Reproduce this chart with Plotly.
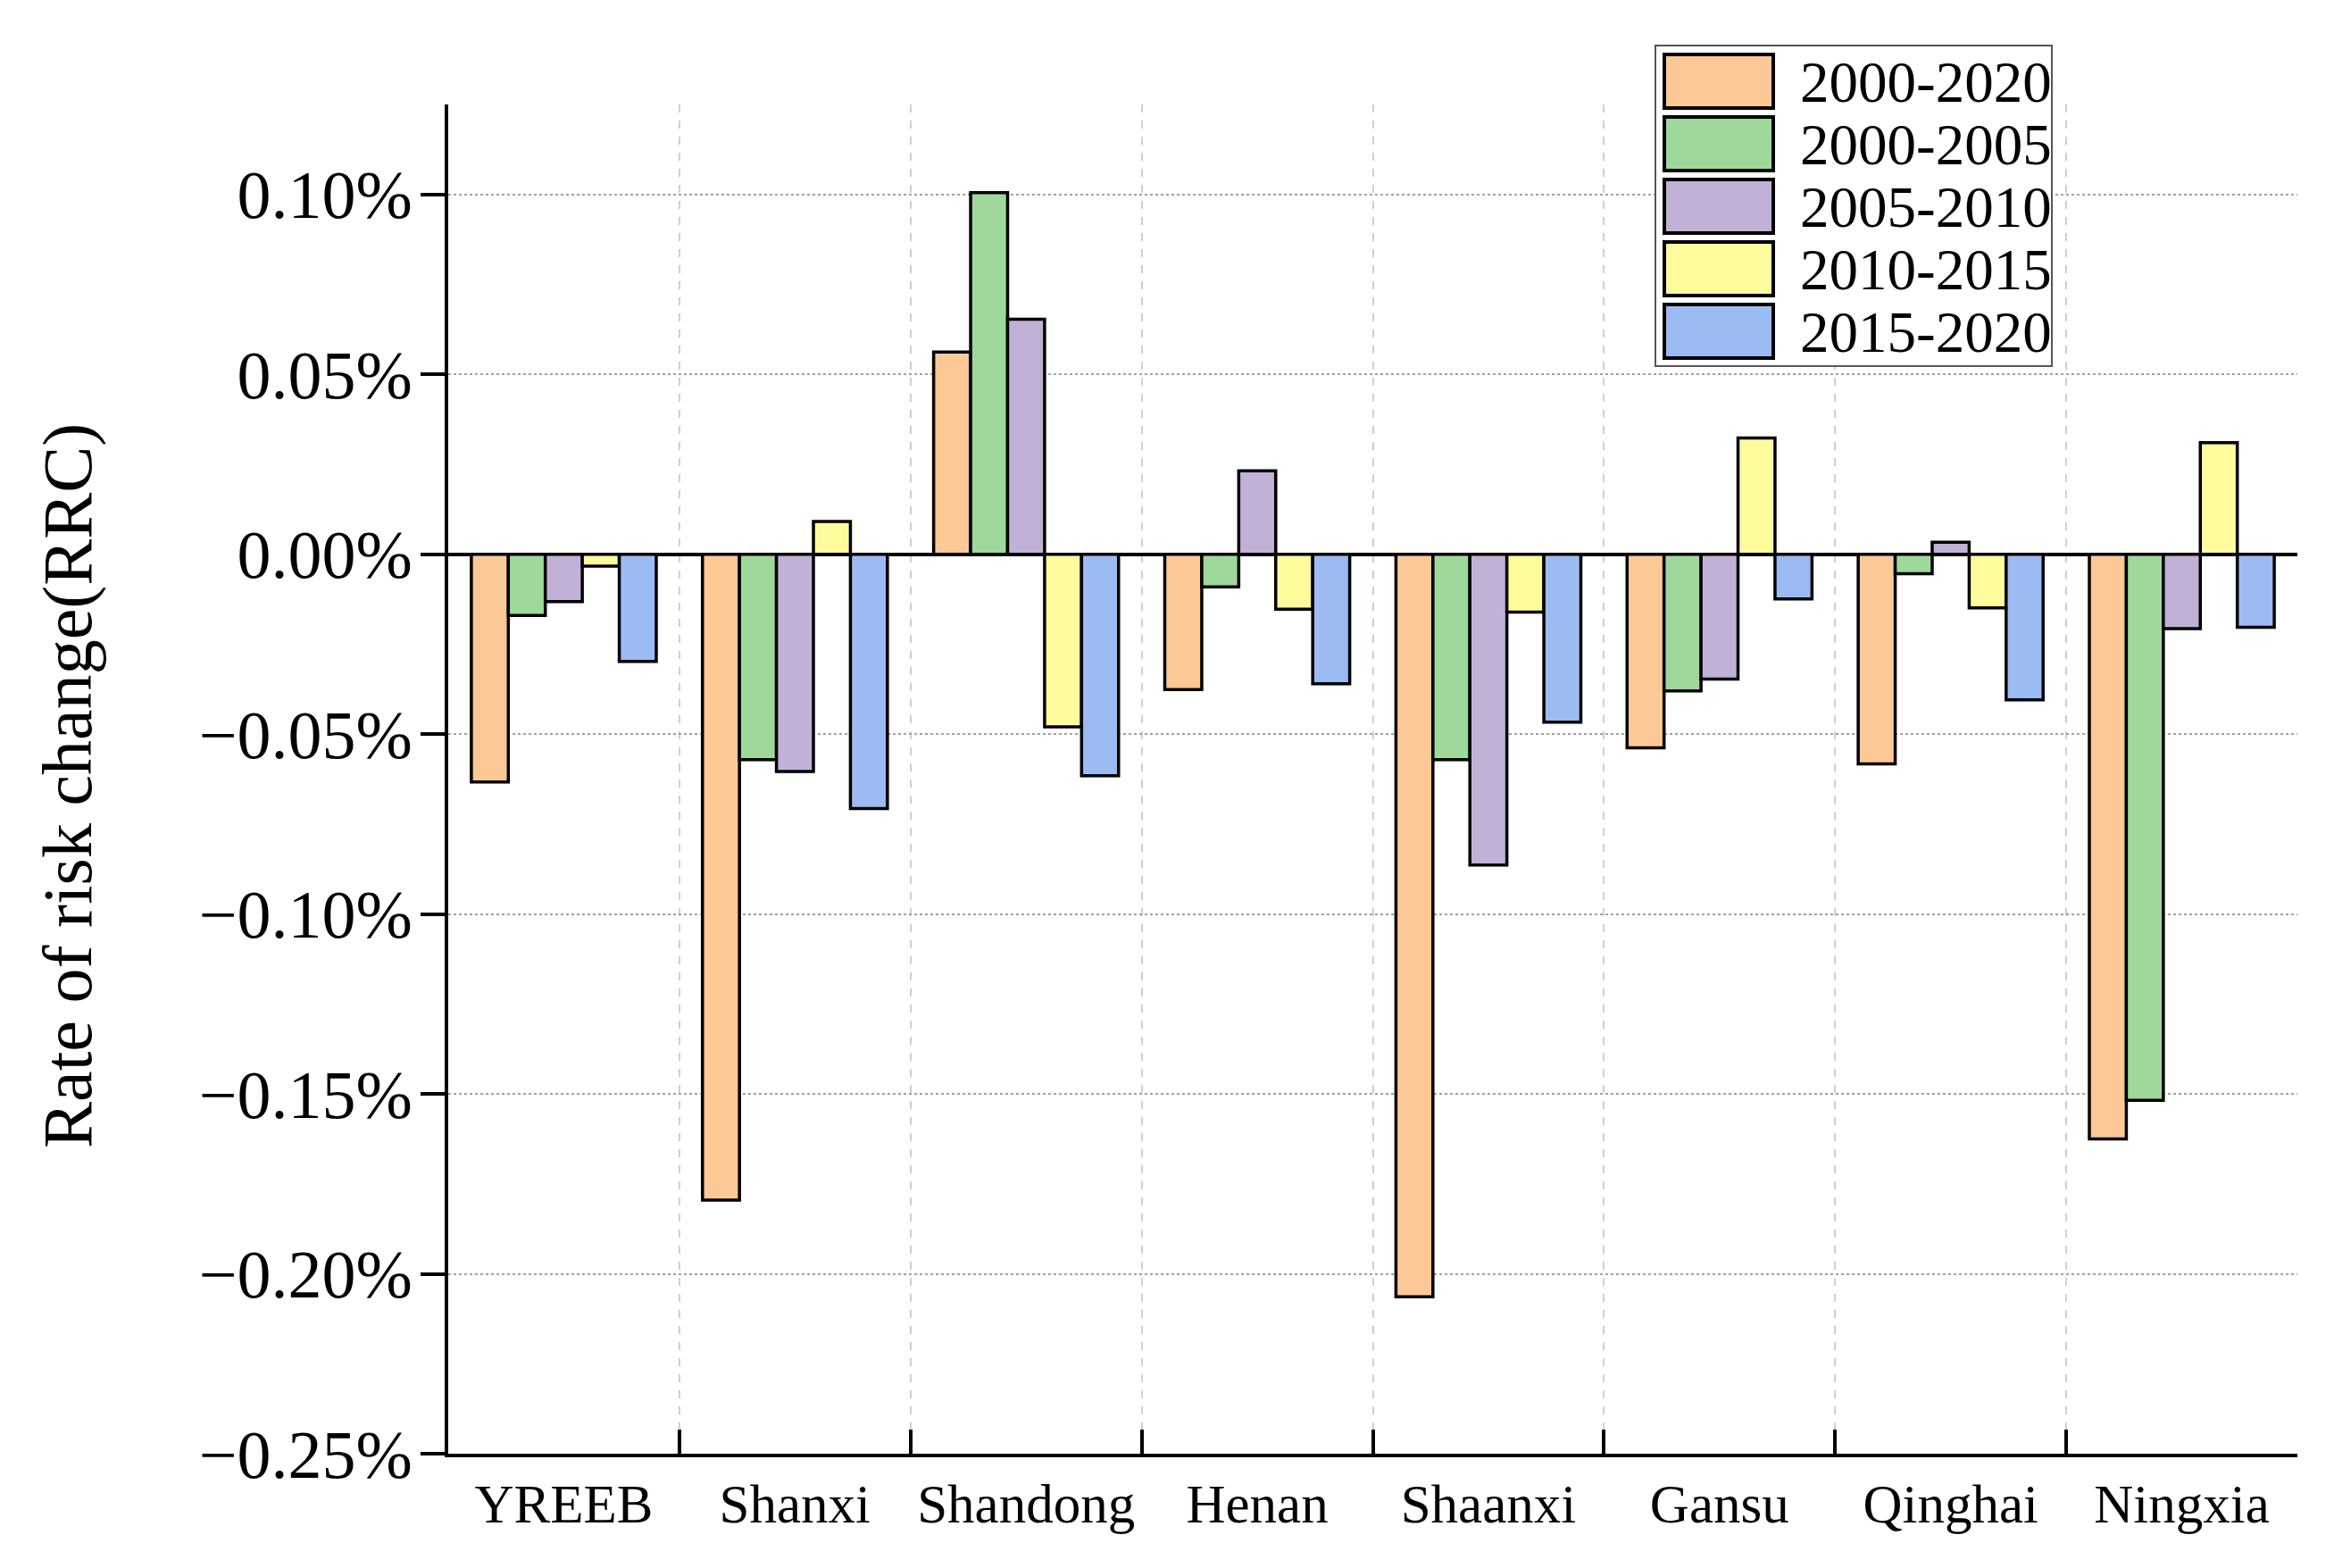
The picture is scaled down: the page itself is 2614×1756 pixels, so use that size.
import plotly.graph_objects as go

regions = ["YREEB", "Shanxi", "Shandong", "Henan", "Shaanxi", "Gansu", "Qinghai", "Ningxia"]
periods = ["2000-2020", "2000-2005", "2005-2010", "2010-2015", "2015-2020"]

# Rate of risk change (%)
rrc_2000_2020 = [-0.0633, -0.1795, 0.0562, -0.0376, -0.2064, -0.0538, -0.0583, -0.1625]
rrc_2000_2005 = [-0.0170, -0.0571, 0.1005, -0.0091, -0.0571, -0.0380, -0.0054, -0.1518]
rrc_2005_2010 = [-0.0132, -0.0604, 0.0653, 0.0232, -0.0864, -0.0347, 0.0033, -0.0207]
rrc_2010_2015 = [-0.0033, 0.0091, -0.0480, -0.0153, -0.0161, 0.0323, -0.0149, 0.0310]
rrc_2015_2020 = [-0.0298, -0.0707, -0.0616, -0.0360, -0.0467, -0.0124, -0.0405, -0.0203]

y_ticks = [-0.25, -0.20, -0.15, -0.10, -0.05, 0.0, 0.05, 0.10]
y_ticktext = [("\u2212" if v < 0 else "") + f"{abs(v):.2f}%" for v in y_ticks]

series = [rrc_2000_2020, rrc_2000_2005, rrc_2005_2010, rrc_2010_2015, rrc_2015_2020]
colors = ["#FCC896", "#9ED99B", "#C1B1D6", "#FEFB9C", "#9BBBF2"]

W, H = 2614, 1756
L, R, T, B = 494, 49, 109, 136
pw, ph = W - L - R, H - T - B

def px_x(x):
    return (x - L) / pw

def px_y(y):
    return (H - B - y) / ph

fig = go.Figure()
for name, vals, col in zip(periods, series, colors):
    fig.add_trace(go.Bar(
        x=regions, y=vals, name=name, showlegend=False,
        marker=dict(color=col, line=dict(color="black", width=3.5)),
    ))

font_main = "Liberation Serif"

# manual legend (large swatches like the reference)
shapes = []
annotations = []
shapes.append(dict(type="rect", xref="paper", yref="paper",
                   x0=px_x(1846), x1=px_x(2290), y0=px_y(402), y1=px_y(43),
                   line=dict(color="#555555", width=2), fillcolor="white", layer="above"))
for i, (name, col) in enumerate(zip(periods, colors)):
    top = 53 + 70 * i
    shapes.append(dict(type="rect", xref="paper", yref="paper",
                       x0=px_x(1856), x1=px_x(1978), y0=px_y(top + 60), y1=px_y(top),
                       line=dict(color="black", width=4), fillcolor=col, layer="above"))
    annotations.append(dict(xref="paper", yref="paper", x=px_x(2006), y=px_y(top + 31),
                            text=name, showarrow=False, xanchor="left", yanchor="middle",
                            font=dict(family=font_main, size=65, color="black")))

annotations.append(dict(xref="paper", yref="paper", x=px_x(68), y=px_y(872),
                        text="Rate of risk change(RRC)", showarrow=False, textangle=-90,
                        xanchor="center", yanchor="middle",
                        font=dict(family=font_main, size=78, color="black")))

fig.update_layout(
    width=W, height=H,
    margin=dict(l=L, r=R, t=T, b=B),
    paper_bgcolor="white", plot_bgcolor="white",
    barmode="group", bargap=0.2, bargroupgap=0.0,
    font=dict(family=font_main, color="black"),
    shapes=shapes, annotations=annotations,
    xaxis=dict(
        type="category", tickson="boundaries",
        showline=True, linecolor="black", linewidth=4,
        ticks="inside", ticklen=27, tickwidth=4, tickcolor="black",
        showgrid=True, gridcolor="#cfcfcf", gridwidth=2, griddash="dash",
        tickfont=dict(family=font_main, size=61, color="black"),
        ticklabelstandoff=0,
        range=[-0.5, 7.5], mirror=False,
    ),
    yaxis=dict(
        range=[-0.25, 0.125], tickvals=y_ticks, ticktext=y_ticktext,
        showline=True, linecolor="black", linewidth=4,
        ticks="outside", ticklen=27, tickwidth=4, tickcolor="black",
        showgrid=True, gridcolor="#a0a0a0", gridwidth=2, griddash="dot",
        zeroline=True, zerolinecolor="black", zerolinewidth=4,
        tickfont=dict(family=font_main, size=76, color="black"),
        ticklabelstandoff=-6,
        mirror=False,
    ),
)

fig.write_html("out.html")
